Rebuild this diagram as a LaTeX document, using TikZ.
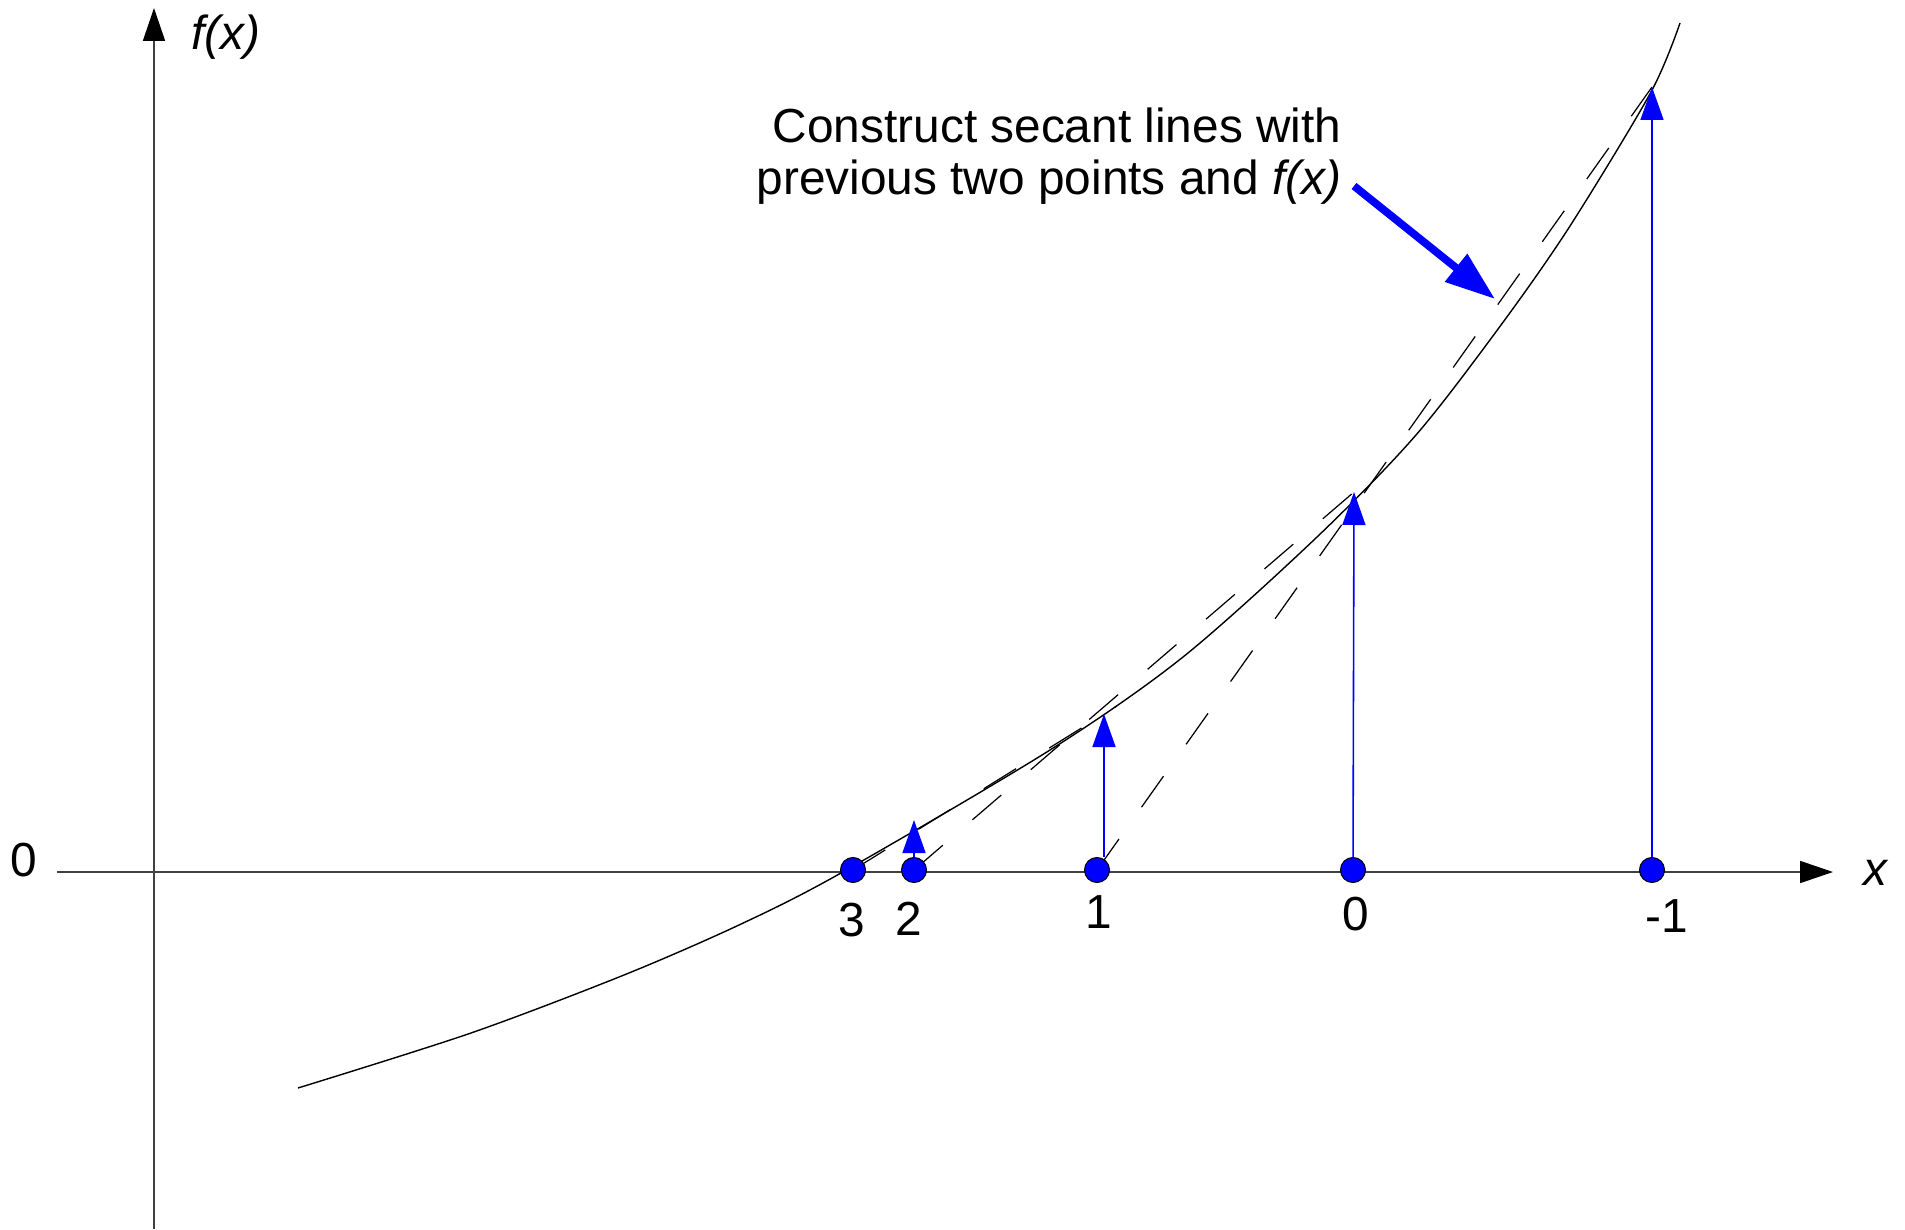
\documentclass[tikz,border=0pt]{standalone}
\usepackage{fontspec}
\setmainfont{Liberation Sans}
\usetikzlibrary{positioning,calc,arrows.meta}

\begin{document}
\begin{tikzpicture}[
    axis/.style={draw=black!75,line width=0.5pt,-{Triangle[length=3.3mm,width=2.2mm,color=black]}},
    iterate/.style={circle,draw=black,line width=0.3pt,fill=blue,minimum size=0.25cm,inner sep=0pt},
    fval/.style={draw=blue,line width=0.45pt,-{Triangle[length=3.3mm,width=2.3mm]}},
    secant/.style={line width=0.35pt,dash pattern=on 0.38cm off 0.39cm},
    pointer/.style={draw=blue,line width=2.2pt,-{Triangle[length=5mm,width=3.4mm]}},
    lbl/.style={inner sep=0pt,font=\fontsize{13.6}{14.9}\selectfont}
]
\useasboundingbox (-1.54,-3.57) rectangle (17.51,8.72);

% axes
\draw[axis] (-0.97,0) -- (16.79,0);
\draw[axis] (0,-3.57) -- (0,8.64);
\node[lbl] (fx)  at (0.72,8.35)  {\textit{f(x)}};
\node[lbl] (xl)  at (17.22,-0.01) {\textit{x}};
\node[lbl] (zero) at (-1.30,0.12) {0};

% the function
\draw[line width=0.4pt] plot[smooth,tension=0.5] coordinates {
    (1.44,-2.16) (3.17,-1.61) (4.70,-1.03) (5.85,-0.53) (6.87,-0.01)
    (8.96,1.22) (10.29,2.15) (11.63,3.35) (12.62,4.37) (13.47,5.47)
    (14.16,6.46) (14.97,7.80) (15.26,8.49)};

% iterates and function values
\coordinate (x3)  at (6.99,0.02);
\coordinate (x2)  at (7.60,0.02);
\coordinate (x1)  at (9.43,0.02);
\coordinate (x0)  at (11.99,0.02);
\coordinate (xm1) at (14.98,0.02);
\coordinate (t2)  at (7.60,0.52);
\coordinate (t1)  at (9.50,1.58);
\coordinate (t0)  at (12.00,3.80);
\coordinate (tm1) at (14.98,7.85);

% secant lines
\draw[secant] (x1) -- (tm1);
\draw[secant] (x2) -- (t0);
\draw[secant] (x3) -- ($(x3)!1.05!(t1)$);

\node[iterate] (p3)  at (x3)  {};
\node[iterate] (p2)  at (x2)  {};
\node[iterate] (p1)  at (x1)  {};
\node[iterate] (p0)  at (x0)  {};
\node[iterate] (pm1) at (xm1) {};

\draw[fval] (p2) -- (t2);
\draw[fval] (t1 |- p1.north) -- (t1);
\draw[fval] (p0) -- (t0);
\draw[fval] (pm1) -- (tm1);

% iteration numbers
\node[lbl] (n3)  at (6.98,-0.48)  {3};
\node[lbl] (n2)  at (7.55,-0.47)  {2};
\node[lbl] (n1)  at (9.45,-0.405) {1};
\node[lbl] (n0)  at (12.02,-0.42) {0};
\node[lbl] (nm1) at (15.13,-0.445) {-1};

% note with arrow
\node[lbl,align=right,anchor=north east] (note) at (11.88,7.65)
    {Construct secant lines with\\previous two points and \textit{f(x)}};
\coordinate (tail) at (12.00,6.86);
\coordinate (hit)  at (13.41,5.73);
\draw[pointer] (tail) -- (hit);

\end{tikzpicture}
\end{document}
